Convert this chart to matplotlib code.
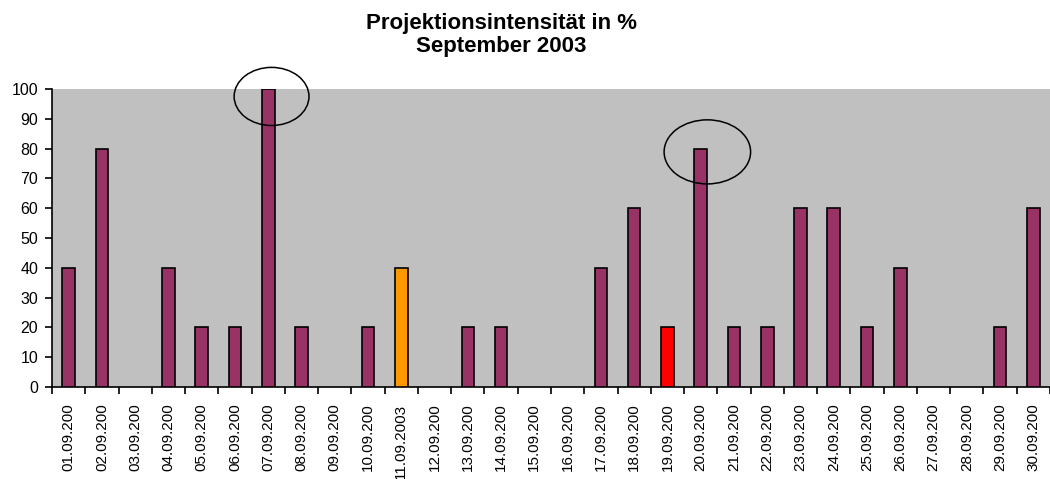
import matplotlib
matplotlib.use("Agg")
import matplotlib.pyplot as plt
from matplotlib.patches import Ellipse
import numpy as np

plt.rcParams['font.family'] = ['Liberation Sans', 'DejaVu Sans']

labels = ["01.09.200", "02.09.200", "03.09.200", "04.09.200", "05.09.200",
          "06.09.200", "07.09.200", "08.09.200", "09.09.200", "10.09.200",
          "11.09.2003", "12.09.200", "13.09.200", "14.09.200", "15.09.200",
          "16.09.200", "17.09.200", "18.09.200", "19.09.200", "20.09.200",
          "21.09.200", "22.09.200", "23.09.200", "24.09.200", "25.09.200",
          "26.09.200", "27.09.200", "28.09.200", "29.09.200", "30.09.200"]
values = [40, 80, 0, 40, 20, 20, 100, 20, 0, 20,
          40, 0, 20, 20, 0, 0, 40, 60, 20, 80,
          20, 20, 60, 60, 20, 40, 0, 0, 20, 60]
highlight = {"11.09.2003": "#FF9900", "19.09.200": "#FF0000"}
base_color = "#993366"

title = "Projektionsintensität in %\nSeptember 2003"

fig = plt.figure(figsize=(10.5, 4.79), dpi=100)
ax = fig.add_axes([52/1050, 1-387/479, 1-52/1050, (387-89)/479])
ax.set_facecolor("#C0C0C0")

x = np.arange(len(labels))
colors = [highlight.get(l, base_color) for l in labels]
lws = [1.2 if v > 0 else 0 for v in values]
ax.bar(x, values, width=0.38, color=colors, edgecolor="black", linewidth=lws, zorder=3)

ax.set_xlim(-0.5, len(labels) - 0.5)
ax.set_ylim(0, 100)
ax.set_yticks(np.arange(0, 101, 10))
ax.tick_params(axis='y', direction='out', length=5, width=1.2, labelsize=11.5, pad=5)

ax.set_xticks(np.arange(-0.5, len(labels), 1.0))
ax.set_xticklabels([])
ax.tick_params(axis='x', which='major', direction='out', length=5, width=1.2)
ax.set_xticks(x, minor=True)
ax.set_xticklabels(labels, minor=True, rotation=90, fontsize=11, va='top', ha='center')
ax.tick_params(axis='x', which='minor', length=0, pad=12)

for s in ['top', 'right']:
    ax.spines[s].set_visible(False)
for s in ['left', 'bottom']:
    ax.spines[s].set_linewidth(1.2)

# annotation ellipses
ax.add_patch(Ellipse((6.1, 97.5), 2.25, 19.5, fill=False, edgecolor="black",
                     linewidth=1.1, clip_on=False, zorder=5))
ax.add_patch(Ellipse((19.2, 78.9), 2.6, 21.5, fill=False, edgecolor="black",
                     linewidth=1.1, clip_on=False, zorder=5))

fig.text(501/1050, 1-35/479, title, ha='center', va='center', fontsize=16,
         fontweight='bold', linespacing=1.15)

fig.savefig("out.png", dpi=100)
